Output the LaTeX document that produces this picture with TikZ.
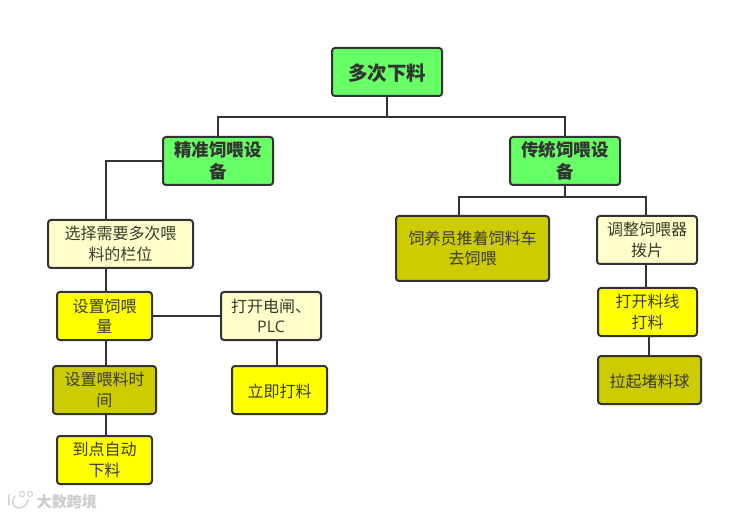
\documentclass[tikz,border=0pt]{standalone}
\usepackage{fontspec}
\setmainfont{Noto Sans CJK SC}
\newfontfamily\latinfont{Open Sans}
\definecolor{edgeC}{HTML}{333333}
\definecolor{rootG}{HTML}{66FF66}
\definecolor{paleY}{HTML}{FFFFCC}
\definecolor{brightY}{HTML}{FFFF00}
\definecolor{oliveY}{HTML}{CCCC00}
\definecolor{textC}{HTML}{3A3A2A}
\tikzset{
  headroom/.style={execute at begin node={\rule{0pt}{#1}}},
  box/.style={draw=edgeC,line width=2pt,rounded corners=3pt,inner sep=0pt,align=center,text=textC,
    font=\fontsize{16}{20.5}\selectfont},
  greenbox/.style={box,fill=rootG,text=black!80,font=\fontsize{17.5}{22}\selectfont\bfseries},
  palebox/.style={box,fill=paleY},
  yellowbox/.style={box,fill=brightY},
  olivebox/.style={box,fill=oliveY},
  twoline/.style={headroom=1.25em},
  twolinegreen/.style={headroom=1.4em},
  oneline/.style={headroom=1.0em},
  link/.style={draw=edgeC,line width=2pt},
  faint/.style={draw=black!16,line width=1.6pt,line cap=round}
}
\begin{document}
\begin{tikzpicture}[x=1pt,y=-1pt]
\useasboundingbox (0,0) rectangle (732,516);
\fill[white] (0,0) rectangle (732,516);
\coordinate (rootj) at (387,117);
\coordinate (rl) at (218,117);
\coordinate (rr) at (565,117);
\coordinate (lj) at (106,161);
\coordinate (tj) at (565,197);
\coordinate (tl) at (459,197);
\coordinate (tr) at (646,197);
\coordinate (plcdown) at (277,340);
\coordinate (nowup) at (277,366);
\coordinate (opendown) at (649,336);
\coordinate (pullup) at (649,356);
\node[greenbox,oneline,minimum width=110pt,minimum height=48pt,font=\fontsize{19.5}{24}\selectfont\bfseries] (root) at (387,72) {多次下料};
\node[greenbox,twolinegreen,minimum width=110pt,minimum height=48pt] (left) at (218,161) {精准饲喂设\\备};
\node[greenbox,twolinegreen,minimum width=110pt,minimum height=48pt] (right) at (565,161) {传统饲喂设\\备};
\node[palebox,twoline,minimum width=145pt,minimum height=48pt] (sel) at (120.5,244) {选择需要多次喂\\料的栏位};
\node[yellowbox,twoline,minimum width=95pt,minimum height=48pt] (feed) at (104.5,316) {设置饲喂\\量};
\node[olivebox,twoline,minimum width=103pt,minimum height=48pt] (time) at (104.5,390) {设置喂料时\\间};
\node[yellowbox,twoline,minimum width=95pt,minimum height=48pt] (auto) at (104.5,460) {到点自动\\下料};
\node[palebox,twoline,minimum width=100pt,minimum height=48pt] (plc) at (271,316) {打开电闸、\\{\latinfont PLC}};
\node[yellowbox,oneline,minimum width=95pt,minimum height=48pt] (now) at (279.5,390) {立即打料};
\node[olivebox,twoline,minimum width=153pt,minimum height=65pt] (trad) at (472.5,248.5) {饲养员推着饲料车\\去饲喂};
\node[palebox,twoline,minimum width=100pt,minimum height=48pt] (adj) at (647,240) {调整饲喂器\\拨片};
\node[yellowbox,twoline,minimum width=99pt,minimum height=48pt] (open) at (647.5,312) {打开料线\\打料};
\node[olivebox,oneline,minimum width=103pt,minimum height=48pt] (pull) at (649.5,380) {拉起堵料球};
\draw[link] (root.south) -- (rootj);
\draw[link] (left.north) -- (rl) -- (rr) -- (right.north);
\draw[link] (left.west) -- (lj) -- (lj |- sel.north);
\draw[link] (lj |- sel.south) -- (lj |- feed.north);
\draw[link] (lj |- feed.south) -- (lj |- time.north);
\draw[link] (lj |- time.south) -- (lj |- auto.north);
\draw[link] (feed.east) -- (plc.west);
\draw[link] (plcdown) -- (nowup);
\draw[link] (right.south) -- (tj);
\draw[link] (tl |- trad.north) -- (tl) -- (tr) -- (tr |- adj.north);
\draw[link] (tr |- adj.south) -- (tr |- open.north);
\draw[link] (opendown) -- (pullup);
% watermark
\draw[faint] (9,495) -- (9,505) (15,496) .. controls (11,500) and (12,507) .. (18,508) .. controls (24,508) and (28,504) .. (28,500);
\draw[faint,line width=1.2pt] (22,494) circle (2.6pt) (30,494) circle (2.6pt);
\node[text=black!20,font=\fontsize{15}{17}\selectfont\bfseries,inner sep=0pt] (wm) at (67,502) {大数跨境};
\end{tikzpicture}
\end{document}
